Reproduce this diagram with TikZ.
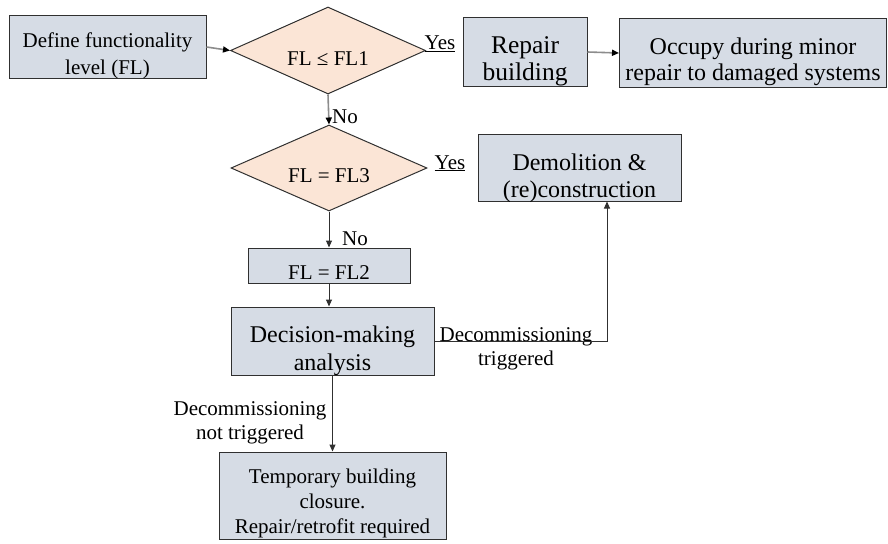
\documentclass[tikz,border=0pt]{standalone}
\usepackage{fontspec}
\setmainfont{Liberation Serif}
\usetikzlibrary{shapes.geometric,arrows.meta}
\definecolor{boxfill}{HTML}{D6DCE5}
\definecolor{dfill}{HTML}{FBE5D6}
\definecolor{edge}{HTML}{303030}
\definecolor{lgray}{HTML}{8C8C8C}
\newcommand{\mlines}[1]{\begin{tabular}[t]{@{}c@{}}#1\end{tabular}}
\newcommand{\fsz}[2]{\fontsize{#1}{#2}\selectfont}
\tikzset{
  procbox/.style={draw=edge, line width=1pt, fill=boxfill, inner sep=0pt},
  decis/.style={draw=edge, line width=1pt, fill=dfill, shape=diamond, aspect=2.24, inner sep=0pt, font=\fsz{21}{25}},
  lbl/.style={inner sep=0pt, align=center, font=\fsz{21}{24}},
  arr/.style={line width=1pt, draw=edge, -{Triangle[length=7pt,width=6pt]}},
  garr/.style={line width=1.6pt, draw=lgray, -{Triangle[length=7pt,width=6pt,fill=black,color=black]}},
  plain/.style={line width=1pt, draw=edge},
}
\begin{document}
\begin{tikzpicture}[x=1pt,y=-1pt]
\useasboundingbox (0,0) rectangle (888,543);
% boxes (text height = first baseline - top, text depth = bottom - first baseline)
\node[procbox, minimum width=197pt, minimum height=62pt, text height=32pt, text depth=30pt, font=\fsz{21}{27}]
  (def) at (107.5,47) {\mlines{Define functionality\\level (FL)}};
\node[decis, minimum width=195pt, minimum height=87pt, text height=29pt, text depth=0pt]
  (d1) at (328,50.5) {FL ≤ FL1};
\node[procbox, minimum width=124pt, minimum height=68pt, text height=35pt, text depth=33pt, font=\fsz{25.5}{27}]
  (rep) at (525,52) {\mlines{Repair\\building}};
\node[procbox, minimum width=267pt, minimum height=68pt, text height=36pt, text depth=32pt, font=\fsz{24}{26}]
  (occ) at (753,53) {\mlines{Occupy during minor\\repair to damaged systems}};
\node[decis, minimum width=196pt, minimum height=86pt, text height=28pt, text depth=0pt]
  (d2) at (329,168) {FL = FL3};
\node[procbox, minimum width=203pt, minimum height=67pt, text height=36pt, text depth=31pt, font=\fsz{24}{27}]
  (dem) at (579.5,167.5) {\mlines{Demolition \&\\(re)construction}};
\node[procbox, minimum width=162pt, minimum height=35pt, text height=31pt, text depth=4pt, font=\fsz{21}{25}]
  (fl2) at (329,265.5) {FL = FL2};
\node[procbox, minimum width=203pt, minimum height=68pt, text height=35pt, text depth=33pt, font=\fsz{24}{28}]
  (dec) at (332.5,341) {\mlines{Decision-making\\analysis}};
\node[procbox, minimum width=227pt, minimum height=87pt, text height=31pt, text depth=56pt, font=\fsz{21}{25}]
  (tmp) at (332.5,495.5) {\mlines{Temporary building\\closure.\\Repair/retrofit required}};
% labels
\node[lbl, anchor=base] (yes1) at (440,50) {\underline{Yes}};
\node[lbl, anchor=base] (yes2) at (450,169) {\underline{Yes}};
\node[lbl, anchor=base west] (no1) at (332,123) {No};
\node[lbl, anchor=base west] (no2) at (342,245) {No};
\node[lbl] (trig) at (516,349) {Decommissioning\\triggered};
\node[lbl] (ntrig) at (250,423) {Decommissioning\\not triggered};
\coordinate (corner) at (607,341.5);
% connectors
\draw[garr] (def.east) -- (d1.west);
\draw[garr] (rep.east) -- (occ.west);
\draw[garr] (d1.south) -- (d2.north);
\draw[arr] (d2.south) -- (fl2.north);
\draw[arr] (fl2.south) -- (fl2.south |- dec.north);
\draw[plain] (dec.east |- corner) -- (corner);
\draw[arr] (corner) -- (corner |- dem.south);
\draw[arr] (dec.south) -- (tmp.north);
\end{tikzpicture}
\end{document}
